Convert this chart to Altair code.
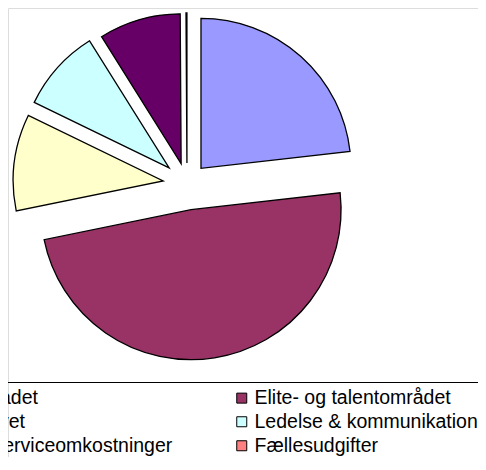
import math
import altair as alt
import pandas as pd

# ---- data ----
categories = [
    "Breddeområdet",
    "Elite- og talentområdet",
    "Foreningslivet",
    "Ledelse & kommunikation",
    "Generelle serviceomkostninger",
    "Fællesudgifter",
]
shares = [23.2, 48.6, 10.4, 8.9, 8.8, 0.1]

# ---- styling ----
colors = ["#9999FF", "#993366", "#FFFFCC", "#CCFFFF", "#660066", "#FF8080"]
explode_px = [21, 26, 24, 24, 21, 21]
CX, CY, R = 179, 176, 150
W, H = 470, 449

df = pd.DataFrame({
    "kategori": categories,
    "andel": shares,
    "idx": list(range(len(categories))),
    "explode": explode_px,
})

pie = (
    alt.Chart(df)
    .transform_window(cum="sum(andel)", sort=[alt.SortField("idx")])
    .transform_joinaggregate(total="sum(andel)")
    .transform_calculate(
        f_end="datum.cum / datum.total",
        f_start="(datum.cum - datum.andel) / datum.total",
    )
    .transform_calculate(mid="(datum.f_start + datum.f_end) * PI")
    .transform_calculate(
        px=f"{CX} + datum.explode * sin(datum.mid)",
        py=f"{CY} - datum.explode * cos(datum.mid)",
    )
    .mark_arc(radius=R, stroke="black", strokeWidth=1.3, strokeJoin="miter")
    .encode(
        theta=alt.Theta("f_start:Q", scale=alt.Scale(domain=[0, 1], range=[0, 2 * math.pi]), stack=None),
        theta2="f_end:Q",
        x=alt.X("px:Q", scale=None, axis=None),
        y=alt.Y("py:Q", scale=None, axis=None),
        color=alt.Color(
            "kategori:N",
            scale=alt.Scale(domain=categories, range=colors),
            sort=categories,
            legend=alt.Legend(
                orient="none",
                direction="horizontal",
                legendX=-133,
                legendY=374,
                columns=2,
                title=None,
                symbolType="square",
                symbolSize=100,
                symbolStrokeColor="black",
                symbolStrokeWidth=1,
                symbolOpacity=1,
                labelFont="Liberation Sans",
                labelFontSize=19.5,
                labelColor="black",
                labelLimit=600,
                labelOffset=3,
                columnPadding=59,
                rowPadding=3,
                padding=6,
                strokeColor="black",
            ),
        ),
        order=alt.Order("idx:Q"),
    )
)

chart = (
    pie.properties(width=W, height=H, autosize=alt.AutoSizeParams(type="none"), padding=0)
    .configure_view(strokeWidth=0, strokeOpacity=0)
    .configure(background="white")
)

chart.save("out.html", embed_options={"renderer": "svg", "actions": False})
